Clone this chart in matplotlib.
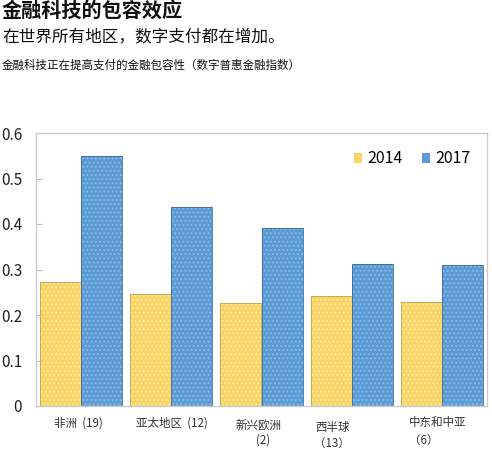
import matplotlib
matplotlib.use("Agg")
import matplotlib.pyplot as plt
import numpy as np

plt.rcParams['font.family'] = ['Noto Sans CJK SC', 'DejaVu Sans']
plt.rcParams['hatch.linewidth'] = 0.8

regions = ["非洲  (19)", "亚太地区  (12)", "新兴欧洲\n(2)", "西半球\n（13）", "中东和中亚\n（6）"]
v2014 = [0.273, 0.246, 0.226, 0.242, 0.229]
v2017 = [0.549, 0.437, 0.391, 0.312, 0.310]
series_names = ["2014", "2017"]
yticks = [0, 0.1, 0.2, 0.3, 0.4, 0.5, 0.6]
ytick_labels = ["0", "0.1", "0.2", "0.3", "0.4", "0.5", "0.6"]

title = "金融科技的包容效应"
subtitle = "在世界所有地区，数字支付都在增加。"
subsubtitle = "金融科技正在提高支付的金融包容性（数字普惠金融指数）"

W, H = 492, 450
fig = plt.figure(figsize=(W/100, H/100), dpi=100)
ax = fig.add_axes([36/W, 1-406/H, (487-36)/W, (406-133)/H])

x = np.arange(len(regions))
bw = 41/90
c14 = "#F9D466"
c17 = "#5B9BD5"
ax.bar(x - bw/2, v2014, bw, color=c14, linewidth=0, label=series_names[0])
ax.bar(x + bw/2, v2017, bw, color=c17, linewidth=0, label=series_names[1])
# dotted texture
ax.bar(x - bw/2, v2014, bw, facecolor="none", edgecolor="#fde9a8", linewidth=0, hatch="....")
ax.bar(x + bw/2, v2017, bw, facecolor="none", edgecolor="#93bde6", linewidth=0, hatch="....")
# outlines
ax.bar(x - bw/2, v2014, bw, fill=False, edgecolor="#b9a15a", linewidth=0.6)
ax.bar(x + bw/2, v2017, bw, fill=False, edgecolor="#3d6c9c", linewidth=0.6)

ax.set_xlim(-0.5, len(regions) - 0.5)
ax.set_ylim(0, 0.6)
ax.set_yticks(yticks)
ax.set_yticklabels(ytick_labels, fontsize=11, color="#222222")
ax.tick_params(axis='y', direction='in', length=4, color="#bbbbbb", pad=10)
ax.set_xticks([])
for s in ax.spines.values():
    s.set_color("#cccccc")
    s.set_linewidth(1.0)

# x category labels (line centres in pixels)
line_pos = [[(78, 423)], [(172, 423)], [(258, 425), (263, 440)],
            [(333, 427), (332, 443)], [(438, 422), (424, 440)]]
for i, lab in enumerate(regions):
    for line, (xp, yp) in zip(lab.split("\n"), line_pos[i]):
        fig.text(xp/W, 1 - yp/H, line, ha='center', va='center',
                 fontsize=8.3, color="#333333")

ax.legend(loc='center right', bbox_to_anchor=(0.995, 0.905), ncol=2, frameon=False,
          fontsize=11.5, handlelength=0.55, handleheight=0.55, handletextpad=0.3,
          columnspacing=1.2)

fig.text(2/W, 1 - 0/H, title, fontsize=14.5, fontweight='bold', va='top', ha='left', color="#111111")
fig.text(2/W, 1 - 28/H, subtitle, fontsize=12, va='top', ha='left', color="#111111")
fig.text(2/W, 1 - 59/H, subsubtitle, fontsize=8.3, va='top', ha='left', color="#111111")

fig.savefig("out.png", dpi=100)
